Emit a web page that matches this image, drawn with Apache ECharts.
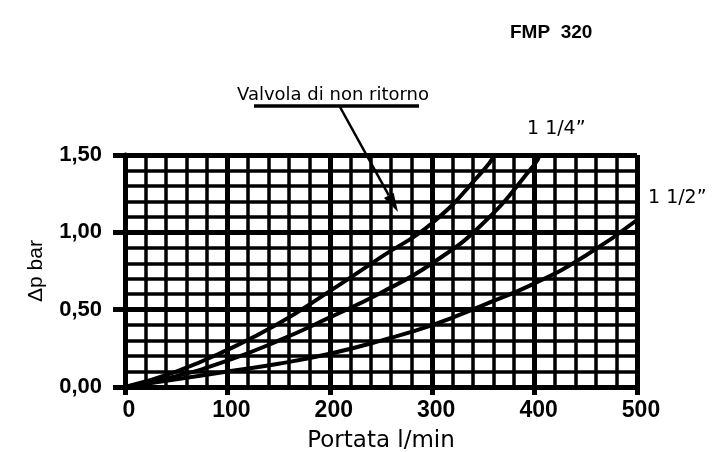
<!DOCTYPE html>
<html>
<head>
<meta charset="utf-8">
<script src="https://cdn.jsdelivr.net/npm/echarts@6/dist/echarts.min.js"></script>
<style>
  html, body { margin: 0; padding: 0; background: #fff; }
  #chart { width: 713px; height: 452px; }
</style>
</head>
<body>
<div id="chart"></div>
<script>
// portata l/min -> Δp bar
const flowValvola = [0, 50, 100, 150, 200, 250, 300, 350, 361]
const dpValvola = [0, 0.10, 0.24, 0.41, 0.62, 0.84, 1.06, 1.40, 1.50]

const flow114 = [0, 50, 100, 150, 200, 250, 300, 350, 400, 405]
const dp114 = [0, 0.07, 0.17, 0.30, 0.45, 0.61, 0.80, 1.06, 1.44, 1.50]

const flow112 = [0, 50, 100, 150, 200, 250, 300, 350, 400, 450, 500]
const dp112 = [0, 0.05, 0.10, 0.15, 0.215, 0.30, 0.40, 0.53, 0.67, 0.85, 1.08]

const xMin = 0, xMax = 500
const yMin = 0, yMax = 1.5

const chart = echarts.init(document.getElementById('chart'))

function pairs(xs, ys) {
  return xs.map((x, i) => [x, ys[i]])
}

function curve(name, xs, ys) {
  return {
    name,
    type: 'line',
    xAxisIndex: 0,
    yAxisIndex: 0,
    data: pairs(xs, ys),
    smooth: true,
    symbol: 'none',
    lineStyle: { color: '#000', width: 4 },
    z: 5,
  }
}

// arrow from the underline down to the valve curve
const arrowFrom = [340, 107]
const arrowTo = [398, 212]
const dx = arrowTo[0] - arrowFrom[0], dy = arrowTo[1] - arrowFrom[1]
const len = Math.hypot(dx, dy)
const ux = dx / len, uy = dy / len
const headLen = 19, headW = 5.5
const bx = arrowTo[0] - ux * headLen, by = arrowTo[1] - uy * headLen

const minorLine = { show: true, lineStyle: { color: '#000', width: 3.5 } }
const majorLine = { show: true, lineStyle: { color: '#000', width: 5 } }

chart.setOption({
  animation: false,
  backgroundColor: '#fff',
  grid: { left: 125, right: 76, top: 155, bottom: 65, containLabel: false, outerBoundsMode: 'none' },
  xAxis: [
    {
      type: 'value', min: xMin, max: xMax, interval: 20,
      axisLine: { show: false }, axisTick: { show: false }, axisLabel: { show: false },
      splitLine: minorLine,
    },
    {
      type: 'value', min: xMin, max: xMax, interval: 100, position: 'bottom',
      axisLine: { show: true, lineStyle: { color: '#000', width: 5 } },
      axisTick: { show: true, length: 8, lineStyle: { color: '#000', width: 5 } },
      axisLabel: {
        margin: 12, color: '#000', fontFamily: 'Liberation Sans', fontWeight: 'bold', fontSize: 23,
        padding: [0, 0, 0, 8],
      },
      splitLine: majorLine,
      name: 'Portata l/min',
      nameLocation: 'middle',
      nameGap: 43,
      nameTextStyle: { color: '#000', fontFamily: 'DejaVu Sans', fontSize: 23 },
    },
  ],
  yAxis: [
    {
      type: 'value', min: yMin, max: yMax, interval: 0.1,
      axisLine: { show: false }, axisTick: { show: false }, axisLabel: { show: false },
      splitLine: minorLine,
    },
    {
      type: 'value', min: yMin, max: yMax, interval: 0.5, position: 'left',
      axisLine: { show: true, lineStyle: { color: '#000', width: 5 } },
      axisTick: { show: true, length: 12, lineStyle: { color: '#000', width: 5 } },
      axisLabel: {
        margin: 23, color: '#000', fontFamily: 'Liberation Sans', fontWeight: 'bold', fontSize: 22,
        formatter: v => v.toFixed(2).replace('.', ','),
      },
      splitLine: majorLine,
      name: 'Δp bar',
      nameLocation: 'middle',
      nameGap: 78,
      nameRotate: 90,
      nameTextStyle: { color: '#000', fontFamily: 'Liberation Sans', fontSize: 21 },
    },
  ],
  series: [
    curve('Valvola di non ritorno', flowValvola, dpValvola),
    curve('1 1/4"', flow114, dp114),
    curve('1 1/2"', flow112, dp112),
  ],
  graphic: [
    {
      type: 'text', left: 510, top: 23,
      style: { text: 'FMP  320', fill: '#000', font: 'bold 19px "Liberation Sans"' },
    },
    {
      type: 'text', left: 237, top: 86,
      style: { text: 'Valvola di non ritorno', fill: '#000', font: '18px "DejaVu Sans"' },
    },
    {
      type: 'line',
      shape: { x1: 254, y1: 106, x2: 419, y2: 106 },
      style: { stroke: '#000', lineWidth: 3.5 },
    },
    {
      type: 'line',
      shape: { x1: arrowFrom[0], y1: arrowFrom[1], x2: bx, y2: by },
      style: { stroke: '#000', lineWidth: 2.5 },
      z: 10,
    },
    {
      type: 'polygon',
      shape: {
        points: [
          arrowTo,
          [bx - uy * headW, by + ux * headW],
          [bx + uy * headW, by - ux * headW],
        ],
      },
      style: { fill: '#000' },
      z: 10,
    },
    {
      type: 'text', left: 527, top: 120,
      style: { text: '1 1/4”', fill: '#000', font: '19px "DejaVu Sans"' },
    },
    {
      type: 'text', left: 648, top: 189,
      style: { text: '1 1/2”', fill: '#000', font: '19px "DejaVu Sans"' },
    },
  ],
})
</script>
</body>
</html>
